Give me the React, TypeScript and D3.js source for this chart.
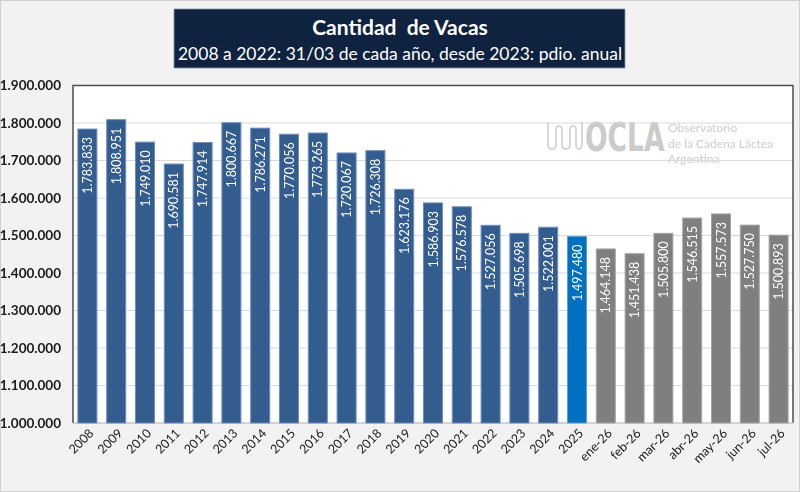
import React from "react";
import * as d3 from "d3";

const categories = ["2008","2009","2010","2011","2012","2013","2014","2015","2016","2017","2018","2019","2020","2021","2022","2023","2024","2025","ene-26","feb-26","mar-26","abr-26","may-26","jun-26","jul-26"];
const values = [1783833,1808951,1749010,1690581,1747914,1800667,1786271,1770056,1773265,1720067,1726308,1623176,1586903,1576578,1527056,1505698,1522001,1497480,1464148,1451438,1505800,1546515,1557573,1527750,1500893];
const kinds = ["hist","hist","hist","hist","hist","hist","hist","hist","hist","hist","hist","hist","hist","hist","hist","hist","hist","current","proj","proj","proj","proj","proj","proj","proj"];
const yTicks = [1000000,1100000,1200000,1300000,1400000,1500000,1600000,1700000,1800000,1900000];
const title = "Cantidad  de Vacas";
const subtitle = "2008 a 2022: 31/03 de cada año, desde 2023: pdio. anual";
const logoLines = ["Observatorio", "de la Cadena Láctea", "Argentina"];

const W = 800, H = 492;
const plot = { left: 73, right: 793, top: 85.5, bottom: 423 };
const FONT = "Lato, 'Noto Sans', sans-serif";
const fill: Record<string, string> = { hist: "#335c8f", current: "#0070c0", proj: "#7f7f7f" };
const stroke: Record<string, string> = { hist: "#6f8fbf", current: "#5aa2dd", proj: "#a6a6a6" };

const fmt = (v: number) => d3.format(",")(v).replace(/,/g, ".");

export default function App() {
  const x = d3.scaleBand<string>().domain(categories).range([plot.left, plot.right]).paddingInner(0.34).paddingOuter(0.17);
  const y = d3.scaleLinear().domain([1000000, 1900000]).range([plot.bottom, plot.top]);
  const bw = x.bandwidth();

  return (
    <div style={{ position: "fixed", left: 0, top: 0 }}>
      <svg width={W} height={H} style={{ display: "block", fontFamily: FONT }}>
        <rect x={0.5} y={0.5} width={W - 1} height={H - 1} fill="#f2f2f2" stroke="#d0d0d0" />
        {/* Title box */}
        <rect x={174} y={9} width={451} height={59} fill="#0f2340" stroke="#8a96a8" strokeWidth={0.8} />
        <text x={400} y={35} textAnchor="middle" fill="#fff" fontSize={21} fontWeight={700} style={{ whiteSpace: "pre" }}>{title}</text>
        <text x={400} y={60} textAnchor="middle" fill="#fff" fontSize={17.5}>{subtitle}</text>
        {/* Plot area */}
        <rect x={plot.left} y={plot.top} width={plot.right - plot.left} height={plot.bottom - plot.top} fill="#ffffff" />
        {/* Logo watermark */}
        <g fill="none" stroke="#cfcfcf" strokeWidth={1.6}>
          <path d="M548,122 V144 Q548,149 552,149 Q556,149 556,144 V130 Q556,126 559,126 Q562,126 562,130 V144 Q562,149 566,149 Q570,149 570,144 V130 Q570,126 573,126 Q576,126 576,130 V144 Q576,149 579,149 Q582,149 582,144 V122" />
        </g>
        <text transform="translate(585,151) scale(1,1.35)" fill="#cbcbcb" fontSize={29.5} fontWeight={700} fontFamily="'DejaVu Sans Condensed','Liberation Sans Narrow',sans-serif">OCLA</text>
        {logoLines.map((l, i) => (
          <text key={l} x={668} y={132 + i * 15.5} fill="#cbcbcb" fontSize={12}>{l}</text>
        ))}
        {/* Gridlines */}
        {yTicks.map((t) => (
          <line key={t} x1={plot.left} x2={plot.right} y1={y(t)} y2={y(t)} stroke="#d9d9d9" strokeWidth={1} />
        ))}
        {/* Axes border */}
        <path d={`M${plot.left},${plot.bottom} V${plot.top} H${plot.right} V${plot.bottom}`} fill="none" stroke="#4d4d4d" strokeWidth={1.5} />
        <line x1={plot.left} x2={plot.right} y1={plot.bottom} y2={plot.bottom} stroke="#bfbfbf" strokeWidth={1.2} />
        {/* Y labels */}
        {yTicks.map((t) => (
          <text key={t} x={61} y={y(t)} dy="0.35em" textAnchor="end" fontSize={13.5} fontWeight={700} fill="#1a1a1a">{fmt(t)}</text>
        ))}
        {/* Bars */}
        {categories.map((c, i) => {
          const x0 = x(c) as number;
          const yt = y(values[i]);
          return (
            <g key={c}>
              <rect x={x0} y={yt} width={bw} height={plot.bottom - yt} fill={fill[kinds[i]]} stroke={stroke[kinds[i]]} strokeWidth={1} />
              <text transform={`translate(${x0 + bw / 2},${yt + 8}) rotate(-90)`} textAnchor="end" dy="0.36em" fontSize={12.5} fill="#ffffff">{fmt(values[i])}</text>
              <text transform={`translate(${x0 + bw / 2 + 4},${plot.bottom + 8}) rotate(-45)`} textAnchor="end" dy="0.35em" fontSize={12.5} fill="#1a1a1a">{c}</text>
            </g>
          );
        })}
      </svg>
    </div>
  );
}
